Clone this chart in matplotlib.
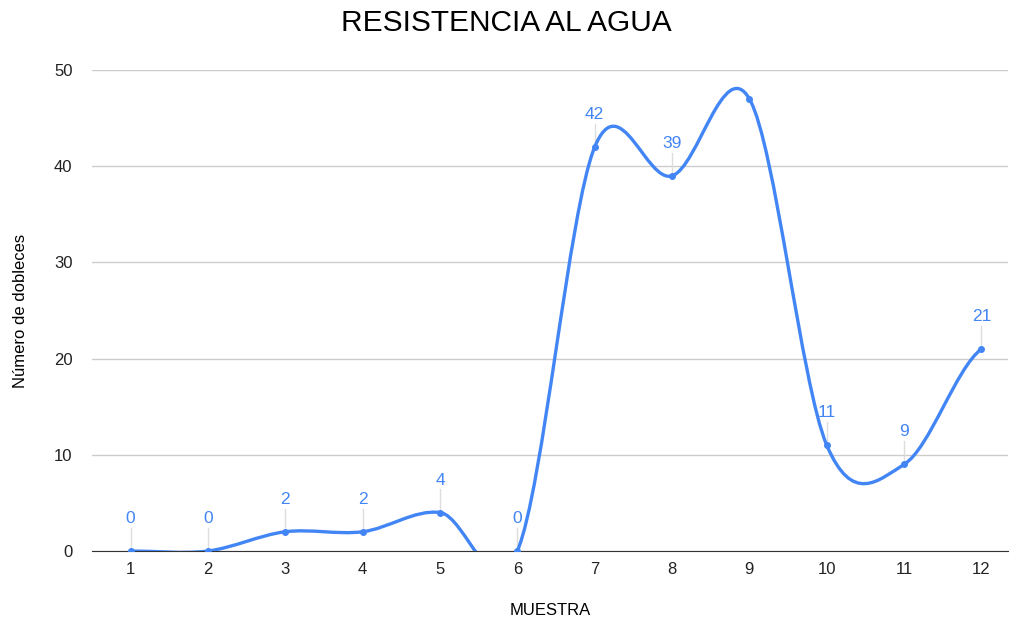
import matplotlib.pyplot as plt
import numpy as np
from matplotlib.path import Path
from matplotlib.patches import PathPatch

plt.rcParams['font.family'] = ['Liberation Sans', 'DejaVu Sans']

muestra = [1, 2, 3, 4, 5, 6, 7, 8, 9, 10, 11, 12]
dobleces = [0, 0, 2, 2, 4, 0, 42, 39, 47, 11, 9, 21]
etiquetas = ['0', '0', '2', '2', '4', '0', '42', '39', '', '11', '9', '21']

azul = '#4285f4'

fig = plt.figure(figsize=(10.13, 6.23), dpi=100)
ax = fig.add_axes([0.0908, 0.1156, 0.904, 0.772])

# curva suavizada tipo Catmull-Rom con beziers cubicos
x = np.array(muestra, dtype=float)
y = np.array(dobleces, dtype=float)
n = len(x)
tang = np.zeros(n)
for i in range(n):
    if i == 0:
        tang[i] = (y[1] - y[0]) / 2
    elif i == n - 1:
        tang[i] = (y[-1] - y[-2]) / 2
    else:
        tang[i] = (y[i + 1] - y[i - 1]) / 2
verts = [(x[0], y[0])]
codes = [Path.MOVETO]
for i in range(n - 1):
    verts += [(x[i] + 1 / 3, y[i] + tang[i] / 3),
              (x[i + 1] - 1 / 3, y[i + 1] - tang[i + 1] / 3),
              (x[i + 1], y[i + 1])]
    codes += [Path.CURVE4] * 3
ax.add_patch(PathPatch(Path(verts, codes), fill=False, edgecolor=azul, lw=2.4, zorder=3))
ax.plot(muestra, dobleces, 'o', color=azul, ms=4, zorder=4)

for xi, yi, t in zip(muestra, dobleces, etiquetas):
    if t == '':
        continue
    ax.plot([xi, xi], [yi, yi + 2.4], color='#dddddd', lw=1, zorder=2)
    ax.annotate(t, (xi, yi), xytext=(0, 18), textcoords='offset points',
                ha='center', va='bottom', color=azul, fontsize=12.5)

ax.set_xlim(0.5, 12.34)
ax.set_ylim(0, 50)
ax.set_xticks(muestra)
ax.set_yticks([0, 10, 20, 30, 40, 50])
ax.grid(axis='y', color='#cccccc', lw=1)
ax.set_axisbelow(True)
for s in ['top', 'right', 'left']:
    ax.spines[s].set_visible(False)
ax.spines['bottom'].set_color('#333333')
ax.tick_params(length=0, labelsize=12, colors='#222222')
ax.tick_params(axis='y', pad=14)
ax.tick_params(axis='x', pad=8)

fig.text(0.5, 0.963, 'RESISTENCIA AL AGUA', ha='center', va='center', fontsize=21.5)
ax.set_xlabel('MUESTRA', fontsize=12, labelpad=19)
ax.set_ylabel('Número de dobleces', fontsize=12, labelpad=19)

fig.savefig('out.png')
